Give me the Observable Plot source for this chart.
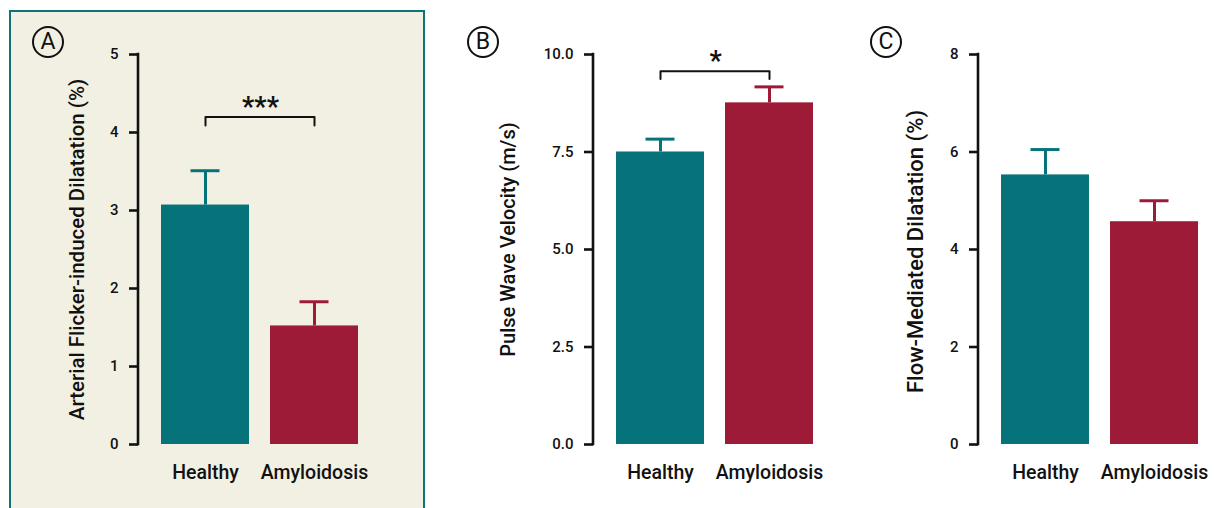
<!DOCTYPE html>
<html><head><meta charset="utf-8">
<script src="https://cdn.jsdelivr.net/npm/d3@7"></script>
<script src="https://cdn.jsdelivr.net/npm/@observablehq/plot@0.6"></script>
<style>
html,body{margin:0;padding:0;width:1214px;height:508px;overflow:hidden;background:#fff;font-family:Roboto,sans-serif}
#wrap{position:relative;width:1214px;height:508px;overflow:hidden}
.panelbg{position:absolute;left:9px;top:10px;width:416px;height:530px;box-sizing:border-box;border:2px solid #0b747b;background:#f2f0e3}
.chart{position:absolute;top:0}
.chart svg{max-width:none !important}
.letter{position:absolute;width:32px;height:32px;border:2.5px solid #111;border-radius:50%;box-sizing:border-box;text-align:center;font:400 23px/27px Roboto,sans-serif;color:#111}
</style></head>
<body>
<div id="wrap">
  <div class="panelbg"></div>
  <div class="letter" style="left:32px;top:26px">A</div>
  <div class="letter" style="left:467px;top:26px">B</div>
  <div class="letter" style="left:870px;top:26px">C</div>
  <div class="chart" id="pA" style="left:0px;width:430px"></div>
  <div class="chart" id="pB" style="left:440px;width:420px"></div>
  <div class="chart" id="pC" style="left:860px;width:370px"></div>
</div>
<script>
const groups = ["Healthy", "Amyloidosis"];
const groupColors = ["#06737a", "#9e1b37"];

const afdMean = [3.07, 1.52];
const afdErr = [0.44, 0.31];
const afdTicks = [0, 1, 2, 3, 4, 5];

const pwvMean = [7.50, 8.76];
const pwvErr = [0.33, 0.41];
const pwvTicks = [0, 2.5, 5, 7.5, 10];

const fmdMean = [5.53, 4.57];
const fmdErr = [0.52, 0.43];
const fmdTicks = [0, 2, 4, 6, 8];

const labelA = "Arterial Flicker-induced Dilatation (%)";
const labelB = "Pulse Wave Velocity (m/s)";
const labelC = "Flow-Mediated Dilatation (%)";

const sigA = {text: "***", top: 4.2, leg: 4.09};
const sigB = {text: "*", top: 9.57, leg: 9.37};

function axisLine(yMax) {
  return (index, scales, values, dims) => {
    const l = document.createElementNS("http://www.w3.org/2000/svg", "line");
    l.setAttribute("x1", dims.marginLeft);
    l.setAttribute("x2", dims.marginLeft);
    l.setAttribute("y1", scales.y(0) + 1.25);
    l.setAttribute("y2", scales.y(yMax) - 1.25);
    l.setAttribute("stroke", "#111");
    l.setAttribute("stroke-width", 2.6);
    return l;
  };
}

function panel({id, width, marginLeft, marginRight, means, errs, ticks, fmt, label, labelSize, labelOffset, labelDy, sig}) {
  const data = groups.map((g, i) => ({group: g, mean: means[i], err: errs[i]}));
  const yMax = ticks[ticks.length - 1];
  const marks = [
    Plot.barY(data, {x: "group", y: "mean", fill: "group"}),
    Plot.ruleX(data, {x: "group", y1: "mean", y2: d => d.mean + d.err, stroke: "group", strokeWidth: 3}),
    Plot.tickY(data, {x: "group", y: d => d.mean + d.err, stroke: "group", strokeWidth: 3, insetLeft: 29.5, insetRight: 29.5}),
    Plot.axisY({ticks, tickSize: 9, tickPadding: 11, tickFormat: fmt, fontSize: 15, fontWeight: 500, strokeWidth: 2.6, label: null, stroke: "#111", fill: "#111"}),
    Plot.axisX({tickSize: 0, tickPadding: 21, fontSize: 19.5, fontWeight: 500, label: null, fill: "#111"}),
    axisLine(yMax),
    Plot.text([label], {frameAnchor: "left", textAnchor: "middle", lineAnchor: "middle", rotate: -90, dx: -labelOffset, dy: labelDy, text: d => d, fontSize: labelSize, fontWeight: 500, fill: "#111"})
  ];
  if (sig) {
    const pts = [
      {group: groups[0], v: sig.leg}, {group: groups[0], v: sig.top},
      {group: groups[1], v: sig.top}, {group: groups[1], v: sig.leg}
    ];
    marks.push(Plot.line(pts, {x: "group", y: "v", stroke: "#111", strokeWidth: 2}));
    marks.push(Plot.text([sig], {x: () => groups[0], y: "top", dx: 55, dy: -1, text: "text", fontSize: 27, fontWeight: 700, lineAnchor: "bottom", fill: "#111"}));
  }
  const p = Plot.plot({
    width, height: 508, marginTop: 54, marginBottom: 64, marginLeft, marginRight,
    style: {background: "transparent", fontFamily: "Roboto, sans-serif", overflow: "visible", maxWidth: "none"},
    x: {domain: groups, paddingInner: 0.19, paddingOuter: 0.2, label: null, axis: null},
    y: {domain: [0, yMax], label: null, axis: null},
    color: {domain: groups, range: groupColors},
    marks
  });
  document.getElementById(id).appendChild(p);
}

panel({id: "pA", width: 430, marginLeft: 138, marginRight: 49, means: afdMean, errs: afdErr, ticks: afdTicks, fmt: d3.format("d"), label: labelA, labelSize: 20.5, labelOffset: 61, labelDy: 0, sig: sigA});
panel({id: "pB", width: 420, marginLeft: 153, marginRight: 24, means: pwvMean, errs: pwvErr, ticks: pwvTicks, fmt: d3.format(".1f"), label: labelB, labelSize: 20, labelOffset: 85, labelDy: -10, sig: sigB});
panel({id: "pC", width: 370, marginLeft: 118, marginRight: 9, means: fmdMean, errs: fmdErr, ticks: fmdTicks, fmt: d3.format("d"), label: labelC, labelSize: 22, labelOffset: 63, labelDy: 2, sig: null});
</script>
</body></html>
